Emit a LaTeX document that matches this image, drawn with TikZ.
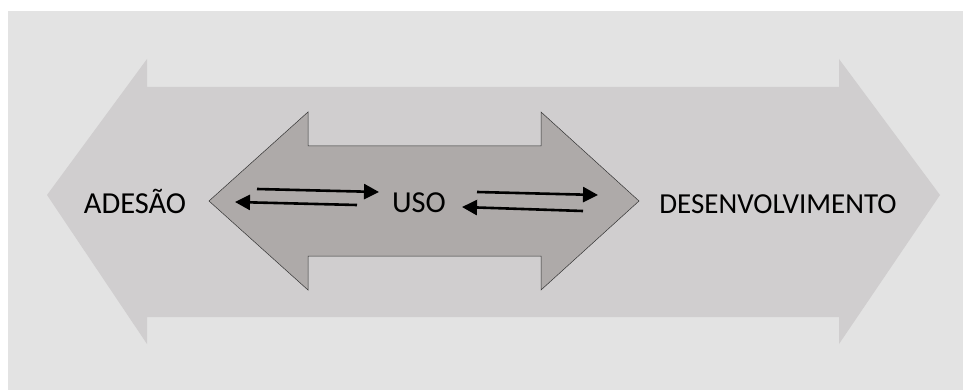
\documentclass[tikz,border=0pt]{standalone}
\usepackage{fontspec}
\setmainfont{Carlito}
\usetikzlibrary{arrows.meta}
\definecolor{bgc}{HTML}{E3E3E3}
\definecolor{outerc}{HTML}{D0CECF}
\definecolor{innerc}{HTML}{AEAAA9}
\begin{document}
\begin{tikzpicture}[x=1pt,y=-1pt,
  lbl/.style={font=\fontsize{30.5}{34}\selectfont, inner sep=0pt, anchor=base},
  flow/.style={line width=2.6pt, -{Triangle[length=15pt,width=15pt]}}]
\useasboundingbox (0,0) rectangle (963,390);
\fill[white] (0,0) rectangle (963,390);
\fill[bgc] (8,11) rectangle (963,390);
% outer double arrow
\fill[outerc] (47,195) -- (147,59) -- (147,87) -- (839,87) -- (839,59) -- (940,195)
  -- (839,344) -- (839,317) -- (147,317) -- (147,344) -- cycle;
% inner double arrow
\filldraw[fill=innerc, draw=black!80, line width=0.5pt] (209,201) -- (308,112) -- (308,146) -- (541,146) -- (541,112) -- (639,201)
  -- (541,290) -- (541,256) -- (308,256) -- (308,290) -- cycle;
\node[lbl] (ad) at (135,213) {ADESÃO};
\node[lbl] (uso) at (419,212) {USO};
\node[lbl, font=\fontsize{29}{32}\selectfont] (des) at (778,214) {DESENVOLVIMENTO};
\coordinate (a1) at (257,189); \coordinate (a2) at (379,192);
\coordinate (b1) at (357,205); \coordinate (b2) at (235,202);
\coordinate (c1) at (477,192); \coordinate (c2) at (598,195);
\coordinate (d1) at (583,211); \coordinate (d2) at (462,207);
\draw[flow] (a1) -- (a2);
\draw[flow] (b1) -- (b2);
\draw[flow] (c1) -- (c2);
\draw[flow] (d1) -- (d2);
\end{tikzpicture}
\end{document}
